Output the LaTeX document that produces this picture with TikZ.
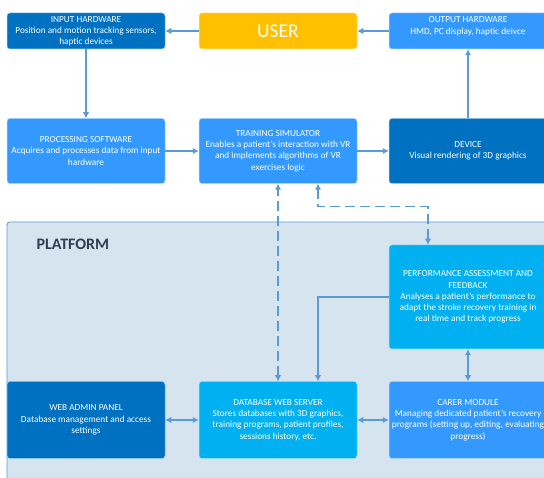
\documentclass[tikz,border=0pt]{standalone}
\usepackage{fontspec}
\setmainfont{Carlito}
\usepackage{tikz}
\usetikzlibrary{arrows.meta,calc,positioning}

\definecolor{darkblue}{HTML}{0070C0}
\definecolor{midblue}{HTML}{3399FF}
\definecolor{skyblue}{HTML}{00B0F0}
\definecolor{useryellow}{HTML}{FFC000}
\definecolor{platformbg}{HTML}{D6E4EF}
\definecolor{linkblue}{HTML}{5B9BD5}
\definecolor{platformtext}{HTML}{2E3F50}

\begin{document}
\begin{tikzpicture}[x=1pt, y=-1pt,
    box/.style={rounded corners=3pt, draw=white!60!#1, line width=0.5pt, fill=#1,
        text=white, align=center, minimum width=158pt, inner sep=2pt,
        font=\fontsize{9.3}{11.2}\selectfont},
    small/.style={minimum height=36pt},
    mid/.style={minimum height=65pt},
    big/.style={minimum height=104pt},
    low/.style={minimum height=77pt},
    link/.style={draw=linkblue, line width=1.4pt, -{Latex[length=6pt,width=6.5pt]}},
    twoway/.style={draw=linkblue, line width=1.4pt, {Latex[length=6pt,width=6.5pt]}-{Latex[length=6pt,width=6.5pt]}},
    dashlink/.style={twoway, dash pattern=on 10pt off 5pt}
]
\clip (0,0) rectangle (544,478);

% platform area
\draw[linkblue, fill=platformbg, rounded corners=3pt, line width=0.8pt] (7,222) rectangle (570,500);
\node[anchor=west, text=platformtext, font=\fontsize{16}{18}\selectfont\bfseries] (plat) at (33,244) {PLATFORM};

% top row
\node[box=darkblue, small] (inhw) at (86,31) {INPUT HARDWARE\\Position and motion tracking sensors,\\haptic devices};
\node[box=useryellow, small, font=\fontsize{19.5}{22}\selectfont] (user) at (278,31) {USER};
\node[box=midblue, small] (outhw) at (468,31) {OUTPUT HARDWARE\\HMD, PC display, haptic deivce\\\mbox{}};

% middle row
\node[box=midblue, mid] (proc) at (86,151) {PROCESSING SOFTWARE\\Acquires and processes data from input\\hardware};
\node[box=midblue, mid] (sim) at (278,151) {TRAINING SIMULATOR\\Enables a patient's interaction with VR\\and implements algorithms of VR\\exercises logic};
\node[box=darkblue, mid] (dev) at (468,151) {DEVICE\\Visual rendering of 3D graphics};

% platform boxes
\node[box=skyblue, big] (perf) at (468,297) {PERFORMANCE ASSESSMENT AND\\FEEDBACK\\Analyses a patient’s performance to\\adapt the stroke recovery training in\\real time and track progress};
\node[box=darkblue, low] (admin) at (86,420) {WEB ADMIN PANEL\\Database management and access\\settings};
\node[box=skyblue, low] (db) at (278,420) {DATABASE WEB SERVER\\Stores databases with 3D graphics,\\training programs, patient profiles,\\sessions history, etc.};
\node[box=midblue, low] (carer) at (468,420) {CARER MODULE\\Managing dedicated patient’s recovery\\programs (setting up, editing, evaluating\\progress)};

% connectors
\draw[link] (user) -- (inhw);
\draw[link] (outhw) -- (user);
\draw[link] (inhw) -- (proc);
\draw[link] (proc) -- (sim);
\draw[link] (sim) -- (dev);
\draw[link] (dev.north) -- (outhw.south);

\draw[dashlink] (db.north) -- (sim.south);
\draw[dashlink] ([xshift=40pt]sim.south) -- ++(0,23) -| ([xshift=-40pt]perf.north);

\draw[link] (perf.west) -| ([xshift=40pt]db.north);
\draw[twoway] (perf.south) -- (carer.north);
\draw[twoway] (admin) -- (db);
\draw[twoway] (db) -- (carer);

\end{tikzpicture}
\end{document}
